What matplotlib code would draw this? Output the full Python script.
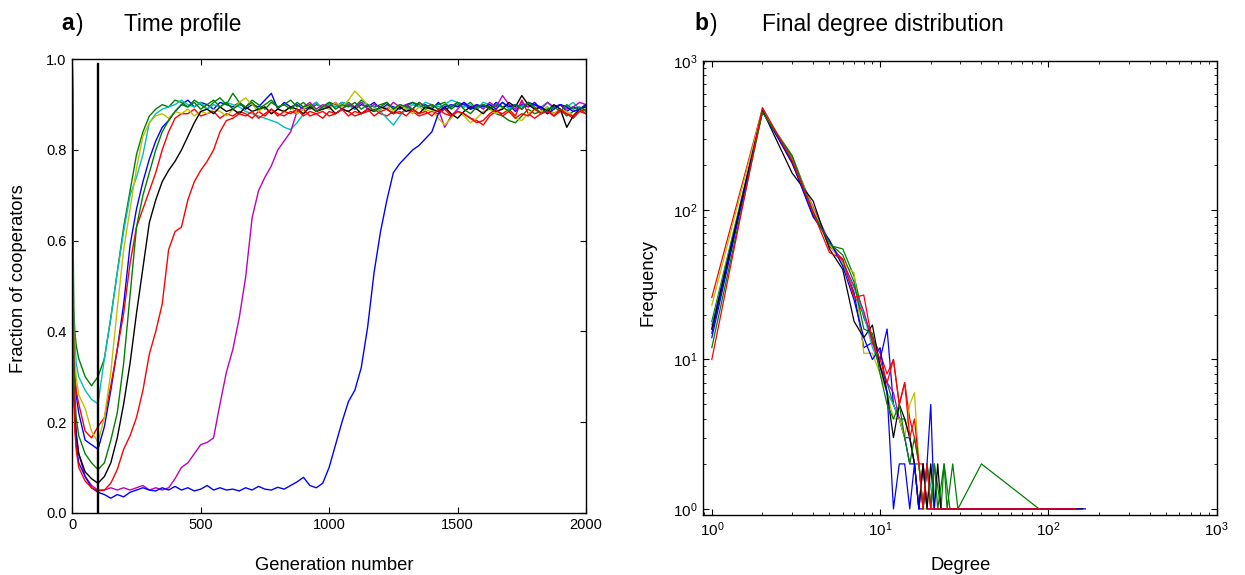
import numpy as np
import matplotlib
matplotlib.use('Agg')
import matplotlib.pyplot as plt
from matplotlib.ticker import LogLocator, NullFormatter

plt.rcParams['font.family'] = ['Liberation Sans', 'DejaVu Sans']
plt.rcParams['mathtext.fontset'] = 'custom'
plt.rcParams['mathtext.rm'] = 'Liberation Sans'

# ---- panel a: fraction of cooperators over generations ----
generation = [0, 5, 10, 15] + list(range(25, 2001, 25))

coop_b1 = [1.0, 0.38, 0.30, 0.26,
           0.22, 0.16, 0.15, 0.14, 0.19, 0.27, 0.36, 0.46,
           0.59, 0.67, 0.73, 0.78, 0.82, 0.85, 0.865, 0.885,
           0.90, 0.91, 0.895, 0.905, 0.90, 0.89, 0.905, 0.90,
           0.895, 0.905, 0.89, 0.90, 0.895, 0.91, 0.925, 0.89,
           0.905, 0.895, 0.90, 0.89, 0.895, 0.905, 0.89, 0.90,
           0.895, 0.905, 0.90, 0.89, 0.90, 0.895, 0.905, 0.89,
           0.90, 0.895, 0.89, 0.90, 0.905, 0.895, 0.90, 0.89,
           0.905, 0.89, 0.895, 0.905, 0.90, 0.89, 0.895, 0.90,
           0.89, 0.905, 0.895, 0.90, 0.885, 0.90, 0.895, 0.905,
           0.89, 0.88, 0.895, 0.90, 0.885, 0.895, 0.89, 0.90]
coop_g1 = [1.0, 0.45, 0.40, 0.37,
           0.34, 0.30, 0.28, 0.30, 0.34, 0.43, 0.53, 0.63,
           0.71, 0.79, 0.84, 0.875, 0.89, 0.90, 0.895, 0.91,
           0.905, 0.895, 0.91, 0.90, 0.89, 0.905, 0.915, 0.90,
           0.925, 0.905, 0.895, 0.91, 0.90, 0.89, 0.905, 0.895,
           0.90, 0.91, 0.895, 0.905, 0.89, 0.90, 0.895, 0.905,
           0.90, 0.89, 0.905, 0.895, 0.91, 0.90, 0.895, 0.90,
           0.905, 0.89, 0.90, 0.895, 0.905, 0.90, 0.89, 0.895,
           0.90, 0.905, 0.89, 0.90, 0.895, 0.905, 0.89, 0.90,
           0.895, 0.88, 0.875, 0.865, 0.86, 0.875, 0.89, 0.88,
           0.885, 0.895, 0.88, 0.89, 0.875, 0.885, 0.89, 0.88]
coop_r1 = [1.0, 0.36, 0.30, 0.27,
           0.24, 0.18, 0.165, 0.19, 0.21, 0.28, 0.36, 0.44,
           0.55, 0.63, 0.67, 0.71, 0.75, 0.80, 0.84, 0.87,
           0.88, 0.88, 0.89, 0.875, 0.88, 0.885, 0.87, 0.88,
           0.875, 0.885, 0.88, 0.87, 0.885, 0.875, 0.89, 0.88,
           0.875, 0.885, 0.88, 0.89, 0.875, 0.88, 0.885, 0.875,
           0.88, 0.89, 0.885, 0.875, 0.88, 0.885, 0.89, 0.88,
           0.875, 0.885, 0.88, 0.89, 0.885, 0.875, 0.88, 0.885,
           0.88, 0.89, 0.875, 0.885, 0.88, 0.87, 0.865, 0.855,
           0.875, 0.885, 0.88, 0.89, 0.875, 0.91, 0.88, 0.87,
           0.88, 0.89, 0.875, 0.885, 0.88, 0.87, 0.885, 0.89]
coop_c = [1.0, 0.44, 0.38, 0.33,
          0.30, 0.27, 0.25, 0.24, 0.34, 0.43, 0.53, 0.62,
          0.70, 0.74, 0.79, 0.86, 0.88, 0.89, 0.895, 0.90,
          0.91, 0.90, 0.895, 0.905, 0.89, 0.90, 0.895, 0.905,
          0.90, 0.895, 0.885, 0.88, 0.875, 0.87, 0.865, 0.86,
          0.85, 0.845, 0.86, 0.88, 0.895, 0.905, 0.89, 0.90,
          0.895, 0.905, 0.90, 0.89, 0.905, 0.90, 0.895, 0.885,
          0.87, 0.855, 0.875, 0.89, 0.90, 0.895, 0.905, 0.90,
          0.895, 0.90, 0.91, 0.905, 0.895, 0.90, 0.89, 0.905,
          0.90, 0.895, 0.905, 0.89, 0.90, 0.895, 0.905, 0.89,
          0.895, 0.905, 0.89, 0.90, 0.895, 0.905, 0.89, 0.90]
coop_m = [1.0, 0.30, 0.22, 0.18,
          0.13, 0.08, 0.06, 0.05, 0.05, 0.055, 0.05, 0.055,
          0.05, 0.055, 0.06, 0.05, 0.055, 0.05, 0.055, 0.075,
          0.10, 0.11, 0.13, 0.15, 0.155, 0.165, 0.24, 0.31,
          0.36, 0.43, 0.52, 0.65, 0.71, 0.74, 0.765, 0.80,
          0.82, 0.84, 0.885, 0.895, 0.905, 0.89, 0.90, 0.895,
          0.905, 0.89, 0.90, 0.895, 0.905, 0.89, 0.90, 0.895,
          0.89, 0.905, 0.895, 0.90, 0.89, 0.905, 0.895, 0.90,
          0.89, 0.85, 0.875, 0.89, 0.905, 0.895, 0.90, 0.89,
          0.905, 0.895, 0.92, 0.90, 0.89, 0.905, 0.895, 0.90,
          0.89, 0.905, 0.895, 0.90, 0.89, 0.895, 0.905, 0.90]
coop_y = [1.0, 0.42, 0.34, 0.30,
          0.26, 0.23, 0.18, 0.155, 0.21, 0.31, 0.45, 0.58,
          0.67, 0.76, 0.83, 0.86, 0.875, 0.88, 0.87, 0.885,
          0.88, 0.89, 0.875, 0.885, 0.88, 0.89, 0.885, 0.875,
          0.89, 0.905, 0.915, 0.90, 0.885, 0.895, 0.88, 0.89,
          0.885, 0.895, 0.88, 0.89, 0.90, 0.885, 0.895, 0.89,
          0.905, 0.895, 0.91, 0.93, 0.915, 0.90, 0.885, 0.89,
          0.895, 0.885, 0.90, 0.89, 0.88, 0.895, 0.885, 0.89,
          0.87, 0.855, 0.87, 0.885, 0.875, 0.86, 0.87, 0.885,
          0.89, 0.88, 0.895, 0.885, 0.87, 0.865, 0.88, 0.89,
          0.885, 0.895, 0.88, 0.89, 0.885, 0.875, 0.89, 0.895]
coop_k = [1.0, 0.30, 0.22, 0.17,
          0.13, 0.09, 0.075, 0.065, 0.08, 0.11, 0.165, 0.24,
          0.33, 0.44, 0.54, 0.64, 0.69, 0.73, 0.755, 0.775,
          0.80, 0.83, 0.86, 0.885, 0.89, 0.88, 0.895, 0.885,
          0.89, 0.88, 0.895, 0.885, 0.89, 0.895, 0.88, 0.89,
          0.885, 0.895, 0.89, 0.88, 0.895, 0.885, 0.89, 0.895,
          0.88, 0.89, 0.885, 0.895, 0.88, 0.89, 0.885, 0.895,
          0.89, 0.88, 0.895, 0.885, 0.89, 0.88, 0.895, 0.89,
          0.885, 0.895, 0.88, 0.87, 0.885, 0.895, 0.89, 0.88,
          0.895, 0.885, 0.89, 0.905, 0.895, 0.92, 0.90, 0.89,
          0.895, 0.885, 0.90, 0.89, 0.85, 0.875, 0.89, 0.895]
coop_b2 = [1.0, 0.30, 0.20, 0.15,
           0.11, 0.08, 0.055, 0.045, 0.04, 0.032, 0.04, 0.035,
           0.045, 0.05, 0.055, 0.05, 0.048, 0.055, 0.05, 0.058,
           0.05, 0.055, 0.048, 0.052, 0.06, 0.05, 0.055, 0.05,
           0.052, 0.048, 0.055, 0.05, 0.058, 0.052, 0.05, 0.056,
           0.052, 0.06, 0.068, 0.078, 0.06, 0.055, 0.065, 0.10,
           0.15, 0.20, 0.245, 0.27, 0.32, 0.41, 0.53, 0.62,
           0.69, 0.75, 0.77, 0.785, 0.80, 0.81, 0.825, 0.84,
           0.88, 0.895, 0.90, 0.895, 0.905, 0.89, 0.90, 0.895,
           0.90, 0.89, 0.905, 0.895, 0.90, 0.89, 0.905, 0.90,
           0.895, 0.88, 0.89, 0.90, 0.895, 0.885, 0.89, 0.90]
coop_g2 = [1.0, 0.34, 0.26, 0.21,
           0.17, 0.13, 0.11, 0.095, 0.11, 0.16, 0.22, 0.33,
           0.48, 0.63, 0.70, 0.75, 0.80, 0.84, 0.865, 0.885,
           0.90, 0.895, 0.905, 0.89, 0.90, 0.91, 0.895, 0.905,
           0.89, 0.90, 0.895, 0.905, 0.89, 0.90, 0.91, 0.895,
           0.90, 0.89, 0.905, 0.895, 0.90, 0.885, 0.895, 0.905,
           0.89, 0.90, 0.895, 0.905, 0.89, 0.90, 0.885, 0.895,
           0.905, 0.89, 0.90, 0.895, 0.89, 0.905, 0.895, 0.90,
           0.89, 0.90, 0.895, 0.905, 0.89, 0.88, 0.895, 0.90,
           0.89, 0.90, 0.895, 0.885, 0.90, 0.89, 0.905, 0.895,
           0.88, 0.89, 0.895, 0.885, 0.90, 0.89, 0.895, 0.885]
coop_r2 = [1.0, 0.28, 0.18, 0.14,
           0.10, 0.07, 0.055, 0.048, 0.05, 0.065, 0.095, 0.14,
           0.17, 0.21, 0.27, 0.35, 0.40, 0.46, 0.58, 0.62,
           0.63, 0.69, 0.73, 0.755, 0.775, 0.80, 0.84, 0.865,
           0.87, 0.88, 0.875, 0.885, 0.87, 0.88, 0.89, 0.875,
           0.885, 0.88, 0.89, 0.875, 0.885, 0.88, 0.87, 0.885,
           0.88, 0.89, 0.875, 0.885, 0.88, 0.89, 0.875, 0.885,
           0.89, 0.88, 0.885, 0.875, 0.89, 0.88, 0.885, 0.875,
           0.89, 0.88, 0.875, 0.885, 0.88, 0.87, 0.86, 0.865,
           0.88, 0.89, 0.875, 0.885, 0.87, 0.88, 0.875, 0.89,
           0.88, 0.885, 0.875, 0.89, 0.88, 0.875, 0.885, 0.88]

time_series = [coop_b1, coop_g1, coop_r1, coop_c, coop_m,
               coop_y, coop_k, coop_b2, coop_g2, coop_r2]
marker_generation = 100

# ---- panel b: final degree distributions ----
deg_b1 = list(range(1, 20)) + [166]
freq_b1 = [15, 468, 210, 92, 62, 44, 28, 12, 13, 10, 16, 5, 4, 3, 2, 2, 1, 2, 1, 1]
deg_g1 = list(range(1, 22)) + [23, 24, 26, 105]
freq_g1 = [18, 455, 232, 100, 58, 55, 36, 19, 14, 9, 7, 5, 4, 4, 3, 2, 2, 1, 2, 1,
           2, 1, 2, 1, 1]
deg_r1 = list(range(1, 21)) + [22, 146]
freq_r1 = [26, 480, 205, 100, 57, 47, 27, 20, 14, 11, 8, 10, 5, 7, 4, 3, 2, 2, 1, 1,
           1, 1]
deg_c = list(range(1, 20)) + [21, 120]
freq_c = [17, 462, 220, 98, 60, 43, 30, 20, 12, 9, 6, 5, 4, 3, 3, 2, 2, 1, 2, 1, 1]
deg_m = list(range(1, 21)) + [130]
freq_m = [16, 472, 215, 105, 61, 45, 31, 21, 13, 9, 7, 6, 4, 3, 3, 2, 1, 2, 1, 1, 1]
deg_y = list(range(1, 22)) + [110]
freq_y = [23, 475, 222, 102, 59, 44, 38, 11, 11, 8, 6, 4, 4, 3, 5, 6, 2, 1, 1, 2,
          1, 1]
deg_k = list(range(1, 24)) + [160]
freq_k = [16, 465, 177, 115, 55, 40, 18, 14, 17, 9, 6, 3, 5, 4, 3, 2, 1, 2, 1, 2,
          1, 2, 1, 1]
deg_b2 = list(range(1, 22)) + [150]
freq_b2 = [14, 458, 208, 90, 63, 42, 25, 14, 10, 12, 6, 1, 2, 2, 1, 2, 1, 1, 2, 5,
           1, 1]
deg_g2 = list(range(1, 23)) + [24, 25, 27, 29, 40, 88]
freq_g2 = [12, 450, 228, 97, 60, 50, 33, 16, 15, 8, 5, 4, 5, 3, 2, 3, 2, 1, 2, 1,
           2, 1, 2, 1, 2, 1, 2, 1]
deg_r2 = list(range(1, 22)) + [146]
freq_r2 = [10, 485, 215, 96, 52, 47, 26, 27, 13, 10, 7, 10, 5, 7, 3, 4, 2, 1, 2, 1,
           1, 1]

degree_series = [(deg_b1, freq_b1), (deg_g1, freq_g1), (deg_r1, freq_r1),
                 (deg_c, freq_c), (deg_m, freq_m), (deg_y, freq_y),
                 (deg_k, freq_k), (deg_b2, freq_b2), (deg_g2, freq_g2),
                 (deg_r2, freq_r2)]

# matlab-style colour order
colors = ['#0000ff', '#008000', '#ff0000', '#00bfbf', '#bf00bf',
          '#bfbf00', '#000000', '#0000ff', '#008000', '#ff0000']

W, H = 1245, 575
fig = plt.figure(figsize=(W / 100, H / 100), dpi=100)


def px_axes(x0, y0, x1, y1):
    return fig.add_axes([x0 / W, 1 - y1 / H, (x1 - x0) / W, (y1 - y0) / H])


ax1 = px_axes(72.3, 59.3, 586, 512.7)
for series, col in zip(time_series, colors):
    ax1.plot(generation, series, color=col, lw=1.0)
ax1.plot([marker_generation, marker_generation], [0, 0.99], color='black', lw=1.7)
ax1.set_xlim(0, 2000)
ax1.set_ylim(0, 1)
ax1.set_xticks([0, 500, 1000, 1500, 2000])
ax1.set_yticks([0, 0.2, 0.4, 0.6, 0.8, 1.0])
ax1.set_yticklabels(['0.0', '0.2', '0.4', '0.6', '0.8', '1.0'])
ax1.tick_params(direction='in', top=True, right=True, length=4, width=0.8,
                labelsize=10.5, pad=4)

ax2 = px_axes(703.3, 60.7, 1216.7, 515)
for (deg, freq), col in zip(degree_series, colors):
    ax2.plot(deg, freq, color=col, lw=0.9)
ax2.set_xscale('log')
ax2.set_yscale('log')
ax2.set_xlim(0.89, 1000)
ax2.set_ylim(0.91, 1000)
ax2.xaxis.set_major_locator(LogLocator(base=10, numticks=10))
ax2.yaxis.set_major_locator(LogLocator(base=10, numticks=10))
ax2.xaxis.set_minor_locator(LogLocator(base=10, subs=np.arange(2, 10), numticks=20))
ax2.yaxis.set_minor_locator(LogLocator(base=10, subs=np.arange(2, 10), numticks=20))
ax2.xaxis.set_minor_formatter(NullFormatter())
ax2.yaxis.set_minor_formatter(NullFormatter())
ax2.tick_params(which='major', direction='in', top=True, right=True, length=4,
                width=0.8, labelsize=11, pad=4)
ax2.tick_params(which='minor', direction='in', top=True, right=True, length=2,
                width=0.6)

for ax in (ax1, ax2):
    for s in ax.spines.values():
        s.set_linewidth(1.0)

# titles and axis labels
fig.text(61 / W, 1 - 24 / H, 'a', fontsize=16.5, fontweight='bold', va='center')
fig.text(76 / W, 1 - 24 / H, ')', fontsize=16.5, va='center')
fig.text(124 / W, 1 - 24 / H, 'Time profile', fontsize=16.3, va='center')
fig.text(694 / W, 1 - 24 / H, 'b', fontsize=16.5, fontweight='bold', va='center')
fig.text(710 / W, 1 - 24 / H, ')', fontsize=16.5, va='center')
fig.text(762 / W, 1 - 24 / H, 'Final degree distribution', fontsize=16.3, va='center')

fig.text(334 / W, 1 - 565 / H, 'Generation number', fontsize=13.2, ha='center', va='center')
fig.text(19 / W, 1 - 279 / H, 'Fraction of cooperators', fontsize=13.2, ha='center',
         va='center', rotation=90)
fig.text(961 / W, 1 - 565 / H, 'Degree', fontsize=13.2, ha='center', va='center')
fig.text(648 / W, 1 - 282 / H, 'Frequency', fontsize=13.2, ha='center', va='center',
         rotation=90)

fig.savefig('out.png', dpi=100)
